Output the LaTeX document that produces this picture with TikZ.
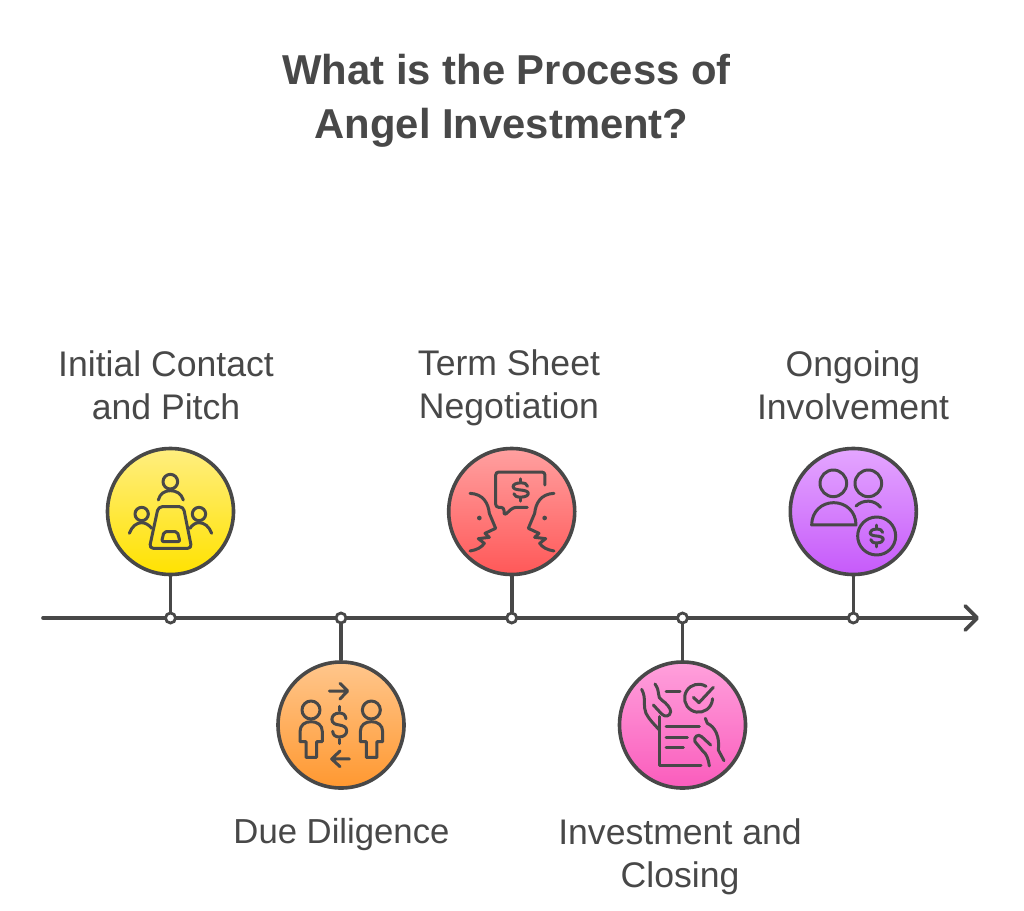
\documentclass[tikz,border=0pt]{standalone}
\usepackage{fontspec}
\setmainfont{Liberation Sans}
\usetikzlibrary{arrows.meta}
\definecolor{ink}{HTML}{484848}
\newcommand{\dollarmark}[4]{%
  \begin{scope}[shift={(#1,#2)},x=#3pt,y=-#4pt]
    \draw[icon] (18,-12) .. controls (17,-20) and (10,-23) .. (0,-23) .. controls (-12,-23) and (-20,-18) .. (-20,-11) .. controls (-20,-3) and (-10,-1) .. (0,0) .. controls (10,1) and (20,4) .. (20,11) .. controls (20,18) and (12,23) .. (0,23) .. controls (-10,23) and (-17,20) .. (-18,12);
    \draw[icon] (0,-36) -- (0,-27) (0,27) -- (0,36);
  \end{scope}}
\tikzset{
  x=1pt,y=-1pt,
  icon/.style={draw=ink,line width=3pt,line cap=round,line join=round},
  disc/.style={circle,draw=ink,line width=3.6pt,minimum size=126pt,inner sep=0pt},
  dot/.style={circle,draw=ink,fill=white,line width=2.8pt,minimum size=10pt,inner sep=0pt},
  link/.style={draw=ink,line width=3.6pt},
  axisline/.style={draw=ink,line width=3.6pt,line cap=round,-{Straight Barb[length=12pt,width=24pt,line width=3.6pt,round]}},
  label/.style={text=ink,font=\fontsize{35.6}{43}\selectfont,align=center},
  heading/.style={text=ink,font=\bfseries\fontsize{41.8}{54}\selectfont,align=center},
  zoomed/.style={x=0.3333pt,y=-0.3333pt},
}
\begin{document}
\begin{tikzpicture}
\useasboundingbox[fill=white] (0,0) rectangle (1024,910);
\node[heading] (title) at (506.5,100.5) {What is the Process of\\Angel Investment?\hspace*{10pt}};
\coordinate (axisstart) at (43,618);
\coordinate (axisend) at (979,618);
\draw[axisline] (axisstart) -- (axisend);
\node[dot] (d1) at (170.5,618) {};
\node[dot] (d2) at (341,618) {};
\node[dot] (d3) at (511.7,618) {};
\node[dot] (d4) at (682.5,618) {};
\node[dot] (d5) at (853.3,618) {};
\node[disc,top color={rgb,255:red,255;green,238;blue,128},bottom color={rgb,255:red,255;green,226;blue,0}] (c1) at (170.5,511.5) {};
\node[disc,top color={rgb,255:red,255;green,198;blue,140},bottom color={rgb,255:red,255;green,152;blue,48}] (c2) at (341,725) {};
\node[disc,top color={rgb,255:red,255;green,160;blue,160},bottom color={rgb,255:red,255;green,88;blue,88}] (c3) at (511.7,511.5) {};
\node[disc,top color={rgb,255:red,255;green,160;blue,220},bottom color={rgb,255:red,250;green,92;blue,188}] (c4) at (682.5,725) {};
\node[disc,top color={rgb,255:red,228;green,166;blue,255},bottom color={rgb,255:red,198;green,90;blue,250}] (c5) at (853.3,511.5) {};
\draw[link] (c1) -- (d1);
\draw[link] (c2) -- (d2);
\draw[link] (c3) -- (d3);
\draw[link] (c4) -- (d4);
\draw[link] (c5) -- (d5);
\node[label] (l1) at (166,385) {Initial Contact\\and Pitch};
\node[label,font=\fontsize{34.7}{43}\selectfont] (l2) at (341.5,835) {Due Diligence};
\node[label] (l3) at (509,387.5) {Term Sheet\\Negotiation};
\node[label] (l4) at (680,856.5) {Investment and\\Closing};
\node[label] (l5) at (853,385) {Ongoing\\Involvement};
% icon 1
\begin{scope}[shift={(90,430)},zoomed]
  \draw[icon] (241,155) circle[radius=22];
  \draw[icon] (205,210) .. controls (210,190) and (225,182) .. (241,182) .. controls (258,182) and (274,190) .. (280,210);
  \draw[icon,rounded corners=4pt] (205,230) -- (280,230) -- (305,355) -- (178,355) -- cycle;
  \draw[icon,rounded corners=2pt] (222,305) -- (262,305) -- (270,335) -- (215,335) -- cycle;
  \draw[icon] (155,252) circle[radius=20];
  \draw[icon] (118,310) .. controls (125,290) and (140,278) .. (155,278) .. controls (165,278) and (178,285) .. (185,295);
  \draw[icon] (327,252) circle[radius=20];
  \draw[icon] (365,310) .. controls (358,290) and (343,278) .. (327,278) .. controls (317,278) and (306,285) .. (300,295);
\end{scope}
% icon 2
\begin{scope}[shift={(260,610)},zoomed]
  \draw[icon] (208,243) -- (262,243) (240,220) -- (263,243) -- (240,267);
  \draw[icon] (268,447) -- (215,447) (240,423) -- (215,447) -- (240,470);
  \draw[icon] (153,300) circle[radius=27];
  \draw[icon] (120,395) -- (120,365) .. controls (120,345) and (135,335) .. (153,335) .. controls (172,335) and (187,345) .. (187,365) -- (187,395) -- (170,395) -- (170,442) -- (138,442) -- (138,395) -- cycle;
  \draw[icon] (334,300) circle[radius=27];
  \draw[icon] (301,395) -- (301,365) .. controls (301,345) and (316,335) .. (334,335) .. controls (353,335) and (368,345) .. (368,365) -- (368,395) -- (351,395) -- (351,442) -- (319,442) -- (319,395) -- cycle;
\end{scope}
\dollarmark{339.3}{725}{0.37}{0.52}
% icon 3
\begin{scope}[shift={(430,430)},zoomed]
  \draw[icon,rounded corners=3pt] (345,165) -- (345,126) -- (197,126) -- (197,232) -- (222,232) -- (222,257) -- (250,232) -- (292,232);
  \draw[icon] (120,190) .. controls (160,192) and (175,220) .. (178,250) -- (197,295) -- (165,310) -- (178,322) -- (145,326) -- (163,340) .. controls (155,352) and (140,360) .. (120,363);
  \draw[icon] (372,190) .. controls (332,192) and (317,220) .. (314,250) -- (295,295) -- (327,310) -- (314,322) -- (347,326) -- (329,340) .. controls (337,352) and (352,360) .. (372,363);
  \fill[ink] (148,264) circle[radius=7] (344,264) circle[radius=7];
\end{scope}
\dollarmark{520.7}{490}{0.38}{0.31}
% icon 4
\begin{scope}[shift={(600,610)},zoomed]
  \draw[icon] (125,238) .. controls (140,265) and (128,290) .. (138,310) .. controls (148,330) and (165,345) .. (178,360);
  \draw[icon] (165,222) .. controls (182,245) and (170,262) .. (185,270) .. controls (200,280) and (212,295) .. (212,305) .. controls (210,320) and (195,322) .. (185,312) -- (160,285);
  \draw[icon] (198,243) -- (240,243);
  \draw[icon] (318,229) arc[start angle=-58,end angle=-358,radius=42];
  \draw[icon] (280,262) -- (297,278) -- (340,232);
  \draw[icon] (178,320) -- (178,467) -- (303,467);
  \draw[icon] (198,350) -- (298,350) (198,382) -- (262,382) (198,414) -- (250,414);
  \draw[icon] (316,325) -- (322,340) .. controls (345,350) and (360,380) .. (355,420) -- (372,452);
  \draw[icon] (328,468) .. controls (325,445) and (318,430) .. (310,425) -- (285,395) .. controls (280,380) and (295,370) .. (305,380) -- (332,405);
\end{scope}
% icon 5
\begin{scope}[shift={(770,430)},zoomed]
  \draw[icon] (190,160) circle[radius=40];
  \draw[icon] (295,160) circle[radius=40];
  \draw[icon] (125,285) .. controls (125,245) and (155,218) .. (191,218) .. controls (228,218) and (258,245) .. (258,285) -- cycle;
  \draw[icon] (258,228) .. controls (280,208) and (312,208) .. (332,232);
  \draw[icon] (320,318) circle[radius=57];
\end{scope}
\dollarmark{876.7}{536}{0.33}{0.3}
\end{tikzpicture}
\end{document}
